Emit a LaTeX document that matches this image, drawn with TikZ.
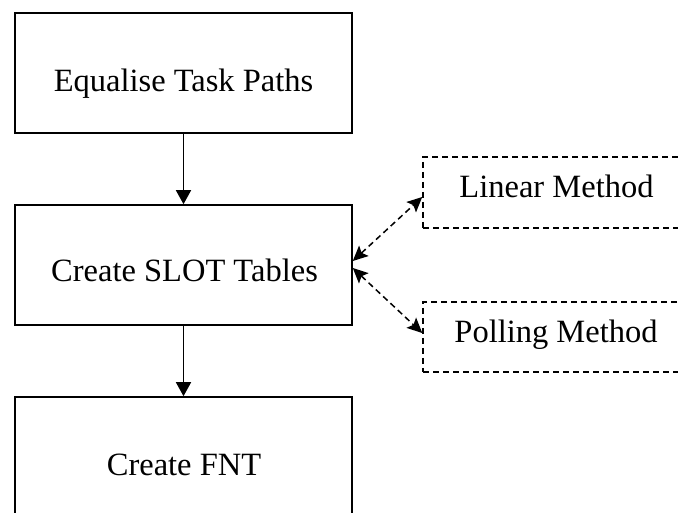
\documentclass[tikz,border=0pt]{standalone}
\usepackage{fontspec}
\setmainfont{Liberation Serif}
\usetikzlibrary{arrows.meta}
\begin{document}
\begin{tikzpicture}[x=1pt,y=-1pt,
  box/.style={draw, line width=1.6pt, minimum width=337pt, inner sep=0pt},
  dbox/.style={draw, line width=1.5pt, dash pattern=on 6pt off 4pt, minimum width=267pt, inner sep=0pt},
  lbl/.style={anchor=base, inner sep=0pt, font=\fontsize{32.5}{38}\selectfont},
  arr/.style={line width=1.6pt, -{Triangle[length=14pt,width=15pt]}},
  darr/.style={line width=1.5pt, dash pattern=on 6pt off 4pt, {Stealth[length=15pt,width=14pt,inset=3pt]}-{Stealth[length=15pt,width=14pt,inset=3pt]}}]
\useasboundingbox (0,0) rectangle (678,513);
\clip (0,0) rectangle (678,513);
\fill[white] (0,0) rectangle (678,513);
\node[box, minimum height=120pt] (top) at (183.5,73) {};
\node[box, minimum height=120pt] (mid) at (183.5,265) {};
\node[box, minimum height=140pt] (bot) at (183.5,467) {};
\node[dbox, minimum height=71pt] (lin) at (556.5,192.5) {};
\node[dbox, minimum height=70pt] (pol) at (556.5,337) {};
\node[lbl] (ttop) at (183.5,92) {Equalise Task Paths};
\node[lbl] (tmid) at (184.5,282) {Create SLOT Tables};
\node[lbl] (tbot) at (184,475) {Create FNT};
\node[lbl] (tlin) at (556.5,198) {Linear Method};
\node[lbl] (tpol) at (556,342) {Polling Method};
\draw[arr] (top) -- (mid);
\draw[arr] (mid) -- (bot);
\draw[darr] ([yshift=4pt]mid.east) -- ([yshift=-4.5pt]lin.west);
\draw[darr] ([yshift=-3pt]mid.east) -- ([yshift=4pt]pol.west);
\end{tikzpicture}
\end{document}
